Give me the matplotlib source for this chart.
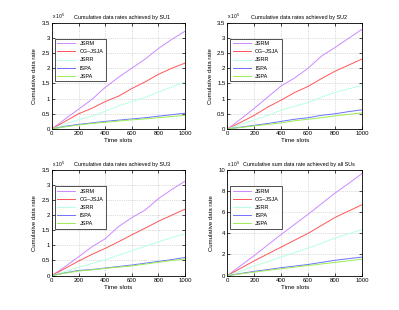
import numpy as np
import matplotlib
matplotlib.use('Agg')
import matplotlib.pyplot as plt

plt.rcParams['font.family'] = ['Liberation Sans', 'DejaVu Sans']

# time slots and cumulative rates (units of 1e5)
t = np.arange(0, 1001, 100)
names = ['JSRM', 'CG\u2013JSJA', 'JSRR', 'ISPA', 'JSPA']
colors = ['#cc88ff', '#ff5555', '#b8ffe0', '#7070ff', '#99ee55']

su1 = [[0, 0.33, 0.65, 0.97, 1.37, 1.70, 2.00, 2.30, 2.65, 2.95, 3.22],
       [0, 0.25, 0.50, 0.68, 0.90, 1.08, 1.33, 1.55, 1.80, 2.00, 2.17],
       [0, 0.17, 0.30, 0.42, 0.58, 0.76, 0.90, 1.04, 1.22, 1.38, 1.55],
       [0, 0.09, 0.15, 0.20, 0.25, 0.29, 0.33, 0.37, 0.42, 0.47, 0.52],
       [0, 0.07, 0.13, 0.18, 0.22, 0.26, 0.30, 0.33, 0.37, 0.41, 0.45]]
su2 = [[0, 0.33, 0.68, 1.05, 1.42, 1.68, 2.00, 2.40, 2.68, 2.98, 3.28],
       [0, 0.22, 0.45, 0.72, 0.95, 1.20, 1.40, 1.66, 1.90, 2.10, 2.30],
       [0, 0.15, 0.30, 0.45, 0.62, 0.75, 0.87, 1.05, 1.20, 1.32, 1.43],
       [0, 0.06, 0.12, 0.18, 0.25, 0.32, 0.37, 0.45, 0.50, 0.57, 0.63],
       [0, 0.05, 0.10, 0.15, 0.20, 0.27, 0.32, 0.37, 0.43, 0.48, 0.53]]
su3 = [[0, 0.30, 0.62, 0.95, 1.22, 1.62, 1.92, 2.17, 2.55, 2.85, 3.13],
       [0, 0.24, 0.48, 0.70, 0.90, 1.12, 1.35, 1.57, 1.80, 2.00, 2.20],
       [0, 0.13, 0.27, 0.40, 0.52, 0.68, 0.82, 0.97, 1.12, 1.26, 1.38],
       [0, 0.09, 0.17, 0.20, 0.25, 0.30, 0.35, 0.41, 0.47, 0.53, 0.60],
       [0, 0.08, 0.15, 0.19, 0.24, 0.28, 0.32, 0.38, 0.44, 0.50, 0.55]]
allsu = [[0, 0.95, 1.90, 2.90, 3.90, 4.85, 5.80, 6.80, 7.80, 8.70, 9.65],
         [0, 0.70, 1.40, 2.05, 2.70, 3.35, 4.00, 4.75, 5.50, 6.10, 6.70],
         [0, 0.45, 0.90, 1.32, 1.75, 2.17, 2.60, 3.07, 3.55, 3.95, 4.35],
         [0, 0.20, 0.40, 0.57, 0.75, 0.90, 1.05, 1.25, 1.45, 1.60, 1.75],
         [0, 0.17, 0.33, 0.49, 0.65, 0.80, 0.95, 1.10, 1.25, 1.40, 1.55]]

panels = [
    (su1, 'Cumulative data rates achieved by SU1', 3.5, 0.5, [0.130, 0.584, 0.334, 0.343]),
    (su2, 'Cumulative data rates achieved by SU2', 3.5, 0.5, [0.570, 0.584, 0.337, 0.343]),
    (su3, 'Cumulative data rates achieved by SU3', 3.5, 0.5, [0.130, 0.111, 0.334, 0.341]),
    (allsu, 'Cumulative sum data rate achieved by all SUs', 10, 2, [0.570, 0.111, 0.337, 0.341]),
]

fig = plt.figure(figsize=(3.99, 3.10), dpi=100)
for data, title, ymax, ystep, pos in panels:
    ax = fig.add_axes(pos)
    for vals, name, c in zip(data, names, colors):
        ax.plot(t, vals, color=c, lw=0.7, label=name)
    ax.set_xlim(0, 1000)
    ax.set_ylim(0, ymax)
    ax.set_xticks(np.arange(0, 1001, 200))
    yt = np.arange(0, ymax + 0.01, ystep)
    ax.set_yticks(yt)
    ax.set_yticklabels(['%g' % v for v in yt])
    ax.tick_params(direction='in', labelsize=4.3, length=2, width=0.5, pad=1.5,
                   top=True, right=True)
    ax.grid(True, ls=':', lw=0.5, color='#bbbbbb')
    for s in ax.spines.values():
        s.set_linewidth(0.6)
    ax.set_xlabel('Time slots', fontsize=4.5, labelpad=1.5)
    ax.set_ylabel('Cumulative data rate', fontsize=4.3, labelpad=3)
    ax.set_title(title, fontsize=4, pad=2.5, x=0.53)
    ax.text(0, 1.012, r'x 10$^5$', transform=ax.transAxes, fontsize=3.5, va='bottom')
    leg = ax.legend(loc='upper left', bbox_to_anchor=(0.02, 0.85), fontsize=4,
                    frameon=True, fancybox=False, edgecolor='k', borderpad=0.5,
                    handlelength=3.2, labelspacing=0.55, handletextpad=0.8,
                    borderaxespad=0)
    leg.get_frame().set_linewidth(0.6)

fig.savefig('out.png', dpi=100)
